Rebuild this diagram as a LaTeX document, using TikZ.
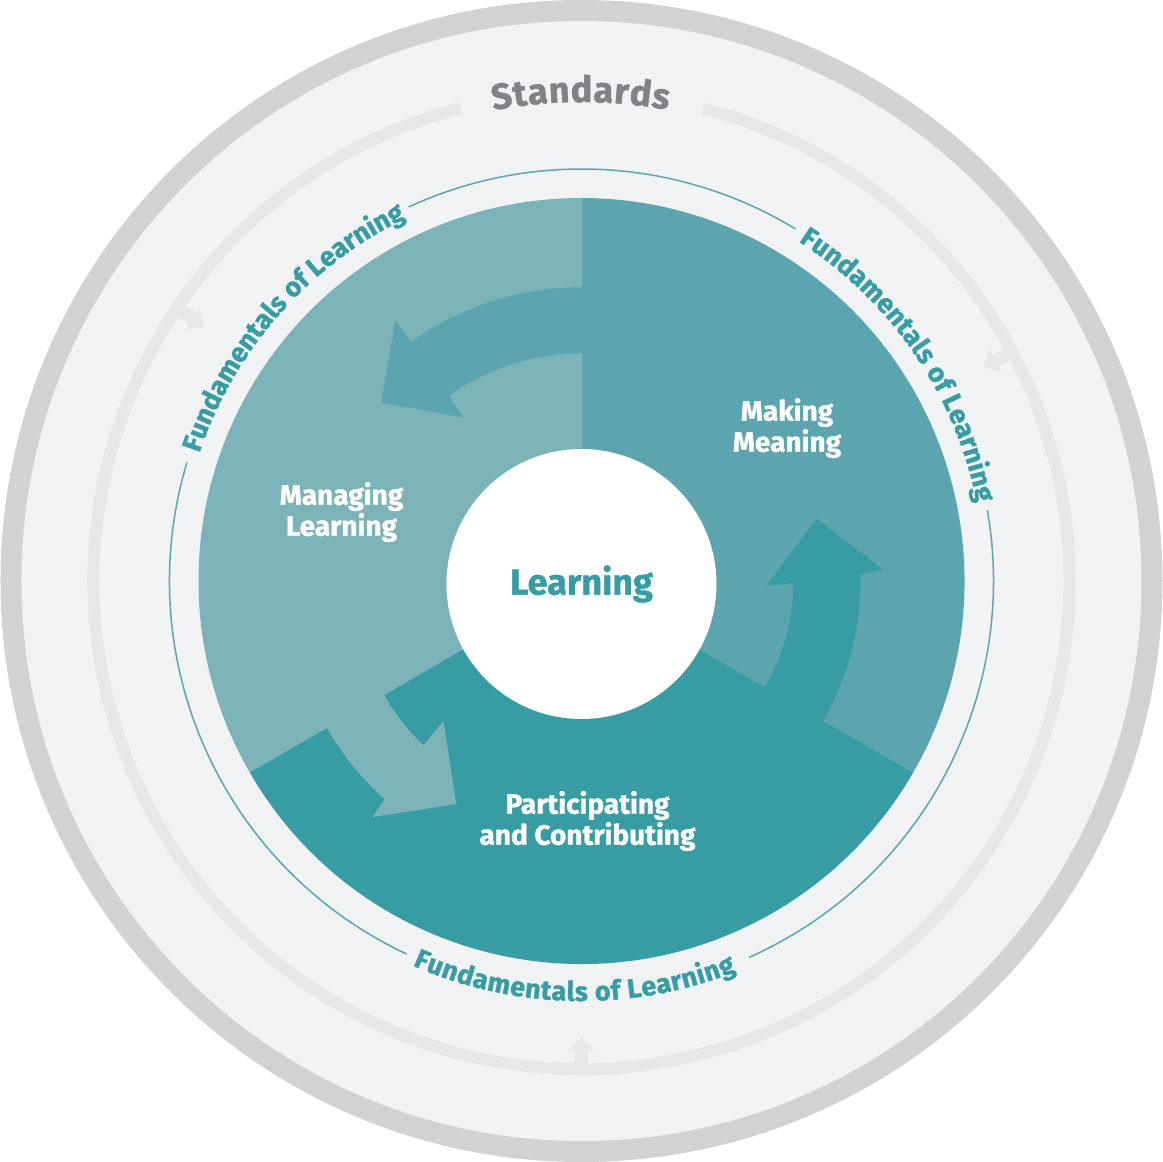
\documentclass[tikz,border=0pt]{standalone}
\usepackage{fontspec}
\setmainfont{Fira Sans}[BoldFeatures={FakeBold=1.2}]
\usetikzlibrary{decorations.text}
\definecolor{bordergray}{RGB}{209,210,212}
\definecolor{backgray}{RGB}{241,242,244}
\definecolor{ringgray}{RGB}{230,231,233}
\definecolor{textgray}{RGB}{128,130,133}
\definecolor{mylightteal}{RGB}{123,179,185}
\definecolor{mymidteal}{RGB}{93,165,174}
\definecolor{mydarkteal}{RGB}{56,156,164}
\newcommand{\rdisk}{383}
\newcommand{\rring}{488}
\newcommand{\rfund}{412}
\tikzset{
    phase/.style={text=white, align=center, font=\bfseries\fontsize{14}{15.5}\selectfont},
    hole/.style={circle, fill=white, minimum size=135pt, text=mydarkteal, font=\bfseries\fontsize{18}{18}\selectfont},
    fundline/.style={draw=mymidteal, line width=0.75pt},
    fundtext/.style={decorate, decoration={text along path, text align=fit to path, text color=mydarkteal,
        text={|\bfseries\fontsize{13.5}{13.5}\selectfont|Fundamentals of Learning}}},
}

\begin{document}
\begin{tikzpicture}[x=0.5pt, y=0.5pt]
    \useasboundingbox (-581.5,-581) rectangle (581.5,581);

    % outer disc and standards ring
    \fill[bordergray] (0,0) circle[radius=581];
    \fill[backgray] (0,0) circle[radius=560];
    \draw[ringgray, line width=6pt] (104.3:\rring) arc[start angle=104.3, end angle=435.6, radius=\rring];
    \foreach \a in {146,28,270}
        \fill[ringgray, rotate=\a] (\rring,6.5) -- (469,6.5) -- (469,13) -- (456,0) -- (469,-13) -- (469,-6.5) -- (\rring,-6.5) -- cycle;
    \path[decorate, decoration={text along path, text align=fit to path, text color=textgray,
        text={|\bfseries\fontsize{18}{18}\selectfont|Standards}}]
        (100.6:479) arc[start angle=100.6, end angle=79.6, radius=479];

    % fundamentals circle
    \draw[fundline] (58.7:\rfund) arc[start angle=58.7, end angle=114.8, radius=\rfund];
    \draw[fundline] (163.3:\rfund) arc[start angle=163.3, end angle=244.9, radius=\rfund];
    \draw[fundline] (294:\rfund) arc[start angle=294, end angle=369.9, radius=\rfund];
    \path[fundtext] (161.5:403) arc[start angle=161.5, end angle=116.2, radius=403];
    \path[fundtext] (57.4:403) arc[start angle=57.4, end angle=11.2, radius=403];
    \path[fundtext] (246.3:420) arc[start angle=246.3, end angle=291.6, radius=420];

    % sectors
    \fill[mylightteal] (0,0) -- (90:\rdisk) arc[start angle=90, end angle=210, radius=\rdisk] -- cycle;
    \fill[mymidteal] (0,0) -- (-30:\rdisk) arc[start angle=-30, end angle=90, radius=\rdisk] -- cycle;
    \fill[mydarkteal] (0,0) -- (210:\rdisk) arc[start angle=210, end angle=330, radius=\rdisk] -- cycle;

    % cycle arrows
    \fill[mymidteal] (85:293.7) arc[start angle=85, end angle=125.4, radius=293.7]
        -- (125.5:320.5) -- (138.3:268.2) -- (125.8:201.3) -- (125.6:227.7)
        arc[start angle=125.6, end angle=85, radius=227.7] -- cycle;
    \fill[mylightteal] (205:294) arc[start angle=205, end angle=227.9, radius=294]
        -- (228.5:315.3) -- (240.7:255.8) -- (225.4:196.6) -- (226.1:228)
        arc[start angle=226.1, end angle=205, radius=228] -- cycle;
    \fill[mydarkteal] (-35:279) arc[start angle=-35, end angle=1.45, radius=279]
        -- (2.1:302.2) -- (14.8:243.3) -- (-1.55:184.8) -- (-0.6:212)
        arc[start angle=-0.6, end angle=-35, radius=212] -- cycle;

    \node[hole] (learning) at (0,-3) {Learning};
    \node[phase] (meaning) at (205.5,153) {Making\\Meaning};
    \node[phase] (managing) at (-240,69) {Managing\\Learning};
    \node[phase] (participating) at (6,-240) {Participating\\and Contributing};
\end{tikzpicture}
\end{document}
